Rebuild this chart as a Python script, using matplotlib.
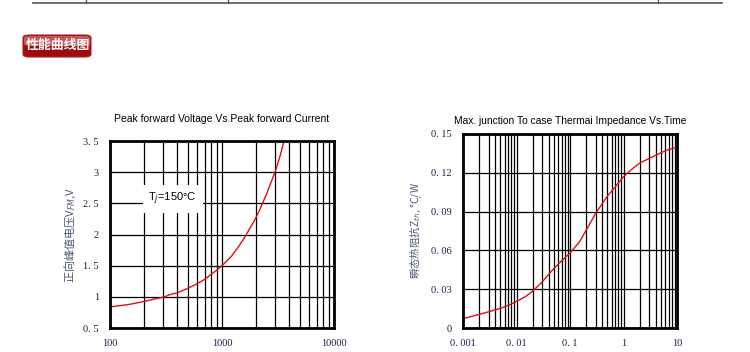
import numpy as np
import matplotlib
matplotlib.use("Agg")
import matplotlib.pyplot as plt
from matplotlib.patches import FancyBboxPatch
from matplotlib.lines import Line2D
from matplotlib.ticker import LogLocator, NullFormatter, FixedLocator

plt.rcParams['font.family'] = ['Liberation Sans', 'Noto Sans CJK SC', 'DejaVu Sans']

# 左图: 峰值正向电流 (A) vs 峰值正向电压 (V)
i_fm = [100, 150, 200, 250, 300, 350, 400, 500, 600, 700, 800, 900, 1000,
        1200, 1400, 1600, 1800, 2000, 2200, 2500, 2800, 3000, 3300, 3580]
v_fm = [0.837, 0.88, 0.925, 0.966, 0.995, 1.04, 1.065, 1.14, 1.21, 1.28, 1.36, 1.43, 1.50,
        1.64, 1.80, 1.96, 2.12, 2.26, 2.42, 2.65, 2.88, 3.02, 3.26, 3.50]
left_yticks = [0.5, 1, 1.5, 2, 2.5, 3, 3.5]
left_ylabels = ['0. 5', '1', '1. 5', '2', '2. 5', '3', '3. 5']
left_xticks = [100, 1000, 10000]
left_xlabels = ['100', '1000', '10000']

# 右图: 时间 (s) vs 瞬态热阻抗 (°C/W)
t_s = [0.001, 0.002, 0.003, 0.005, 0.007, 0.01, 0.015, 0.02, 0.03, 0.05, 0.07, 0.1,
       0.15, 0.2, 0.3, 0.5, 0.7, 1, 1.5, 2, 3, 5, 7, 10]
z_th = [0.0072, 0.0105, 0.0125, 0.0152, 0.0175, 0.0205, 0.0245, 0.0285, 0.0355, 0.046, 0.052, 0.058,
        0.0665, 0.0755, 0.0885, 0.102, 0.109, 0.117, 0.1235, 0.1275, 0.131, 0.1355, 0.138, 0.1397]
right_yticks = [0, 0.03, 0.06, 0.09, 0.12, 0.15]
right_ylabels = ['0', '0. 03', '0. 06', '0. 09', '0. 12', '0. 15']
right_xticks = [0.001, 0.01, 0.1, 1, 10]
right_xlabels = ['0. 001', '0. 01', '0. 1', '1', '10']

W, H = 750, 352
fig = plt.figure(figsize=(W / 100, H / 100), dpi=100)

def px(x0, x1, top, bottom):
    return [x0 / W, (H - bottom) / H, (x1 - x0) / W, (bottom - top) / H]

# 顶部表格线
fig.add_artist(Line2D([33 / W, 722 / W], [1 - 3 / H, 1 - 3 / H], color='#555555', lw=1.2))
for xv in [86, 228, 658]:
    fig.add_artist(Line2D([xv / W, xv / W], [1 - 3 / H, 1.0], color='#555555', lw=1))

# 标题条
fig.patches.append(FancyBboxPatch((23 / W, (H - 57) / H), 68 / W, 22 / H,
                                  boxstyle='round,pad=0,rounding_size=0.008',
                                  transform=fig.transFigure, fc='#9c0a0e', ec='#b02020', lw=0.8))
fig.patches.append(FancyBboxPatch((24 / W, (H - 46) / H), 66 / W, 10 / H,
                                  boxstyle='round,pad=0,rounding_size=0.006',
                                  transform=fig.transFigure, fc='#c25a5c', ec='none'))
fig.text(58 / W, (H - 45.5) / H, '性能曲线图', color='white', fontsize=9.3, fontweight='bold',
         ha='center', va='center', family=['Noto Sans CJK SC'])

tick_color = '#1c1c48'
label_color = '#4a5878'


def style_axes(ax, xticks, xlabels, yticks, ylabels):
    ax.set_xscale('log')
    ax.xaxis.set_major_locator(FixedLocator(xticks))
    ax.xaxis.set_minor_locator(LogLocator(base=10, subs=np.arange(2, 10)))
    ax.xaxis.set_minor_formatter(NullFormatter())
    ax.set_xticks(xticks)
    ax.set_xticklabels(xlabels)
    ax.set_yticks(yticks)
    ax.set_yticklabels(ylabels)
    ax.grid(True, which='both', axis='x', color='black', lw=0.9)
    ax.grid(True, which='major', axis='y', color='black', lw=0.9)
    ax.tick_params(which='both', length=0, pad=8, labelsize=7.5, labelcolor=tick_color)
    for lab in ax.get_xticklabels() + ax.get_yticklabels():
        lab.set_family('Liberation Serif')
    for s in ax.spines.values():
        s.set_linewidth(2)
        s.set_color('black')


ax1 = fig.add_axes(px(110, 334, 141, 328))
ax1.plot(i_fm, v_fm, color='#dd1111', lw=1)
ax1.set_xlim(100, 10000)
ax1.set_ylim(0.5, 3.5)
style_axes(ax1, left_xticks, left_xlabels, left_yticks, left_ylabels)
ax1.set_title('Peak forward Voltage Vs.Peak forward Current', fontsize=7.5, pad=14)
ax1.set_ylabel('正向峰值电压V$_{FM}$,V', fontsize=8, color=label_color, labelpad=4,
               family=['Noto Sans CJK SC', 'DejaVu Sans'])
ax1.text(0.28, 0.69, 'T$_j$=150°C', transform=ax1.transAxes, fontsize=8, ha='center', va='center',
         bbox=dict(fc='white', ec='none', pad=4))

ax2 = fig.add_axes(px(463, 677, 134, 328))
ax2.plot(t_s, z_th, color='#dd1111', lw=1)
ax2.set_xlim(0.001, 10)
ax2.set_ylim(0, 0.15)
style_axes(ax2, right_xticks, right_xlabels, right_yticks, right_ylabels)
ax2.set_title('Max. junction To case Thermai Impedance Vs.Time', fontsize=7.4, pad=7)
ax2.set_ylabel('瞬态热阻抗Z$_{th}$, °C/W', fontsize=7.5, color=label_color, labelpad=6,
               family=['Noto Sans CJK SC', 'DejaVu Sans'])

fig.savefig('out.png', dpi=100, facecolor='white')
